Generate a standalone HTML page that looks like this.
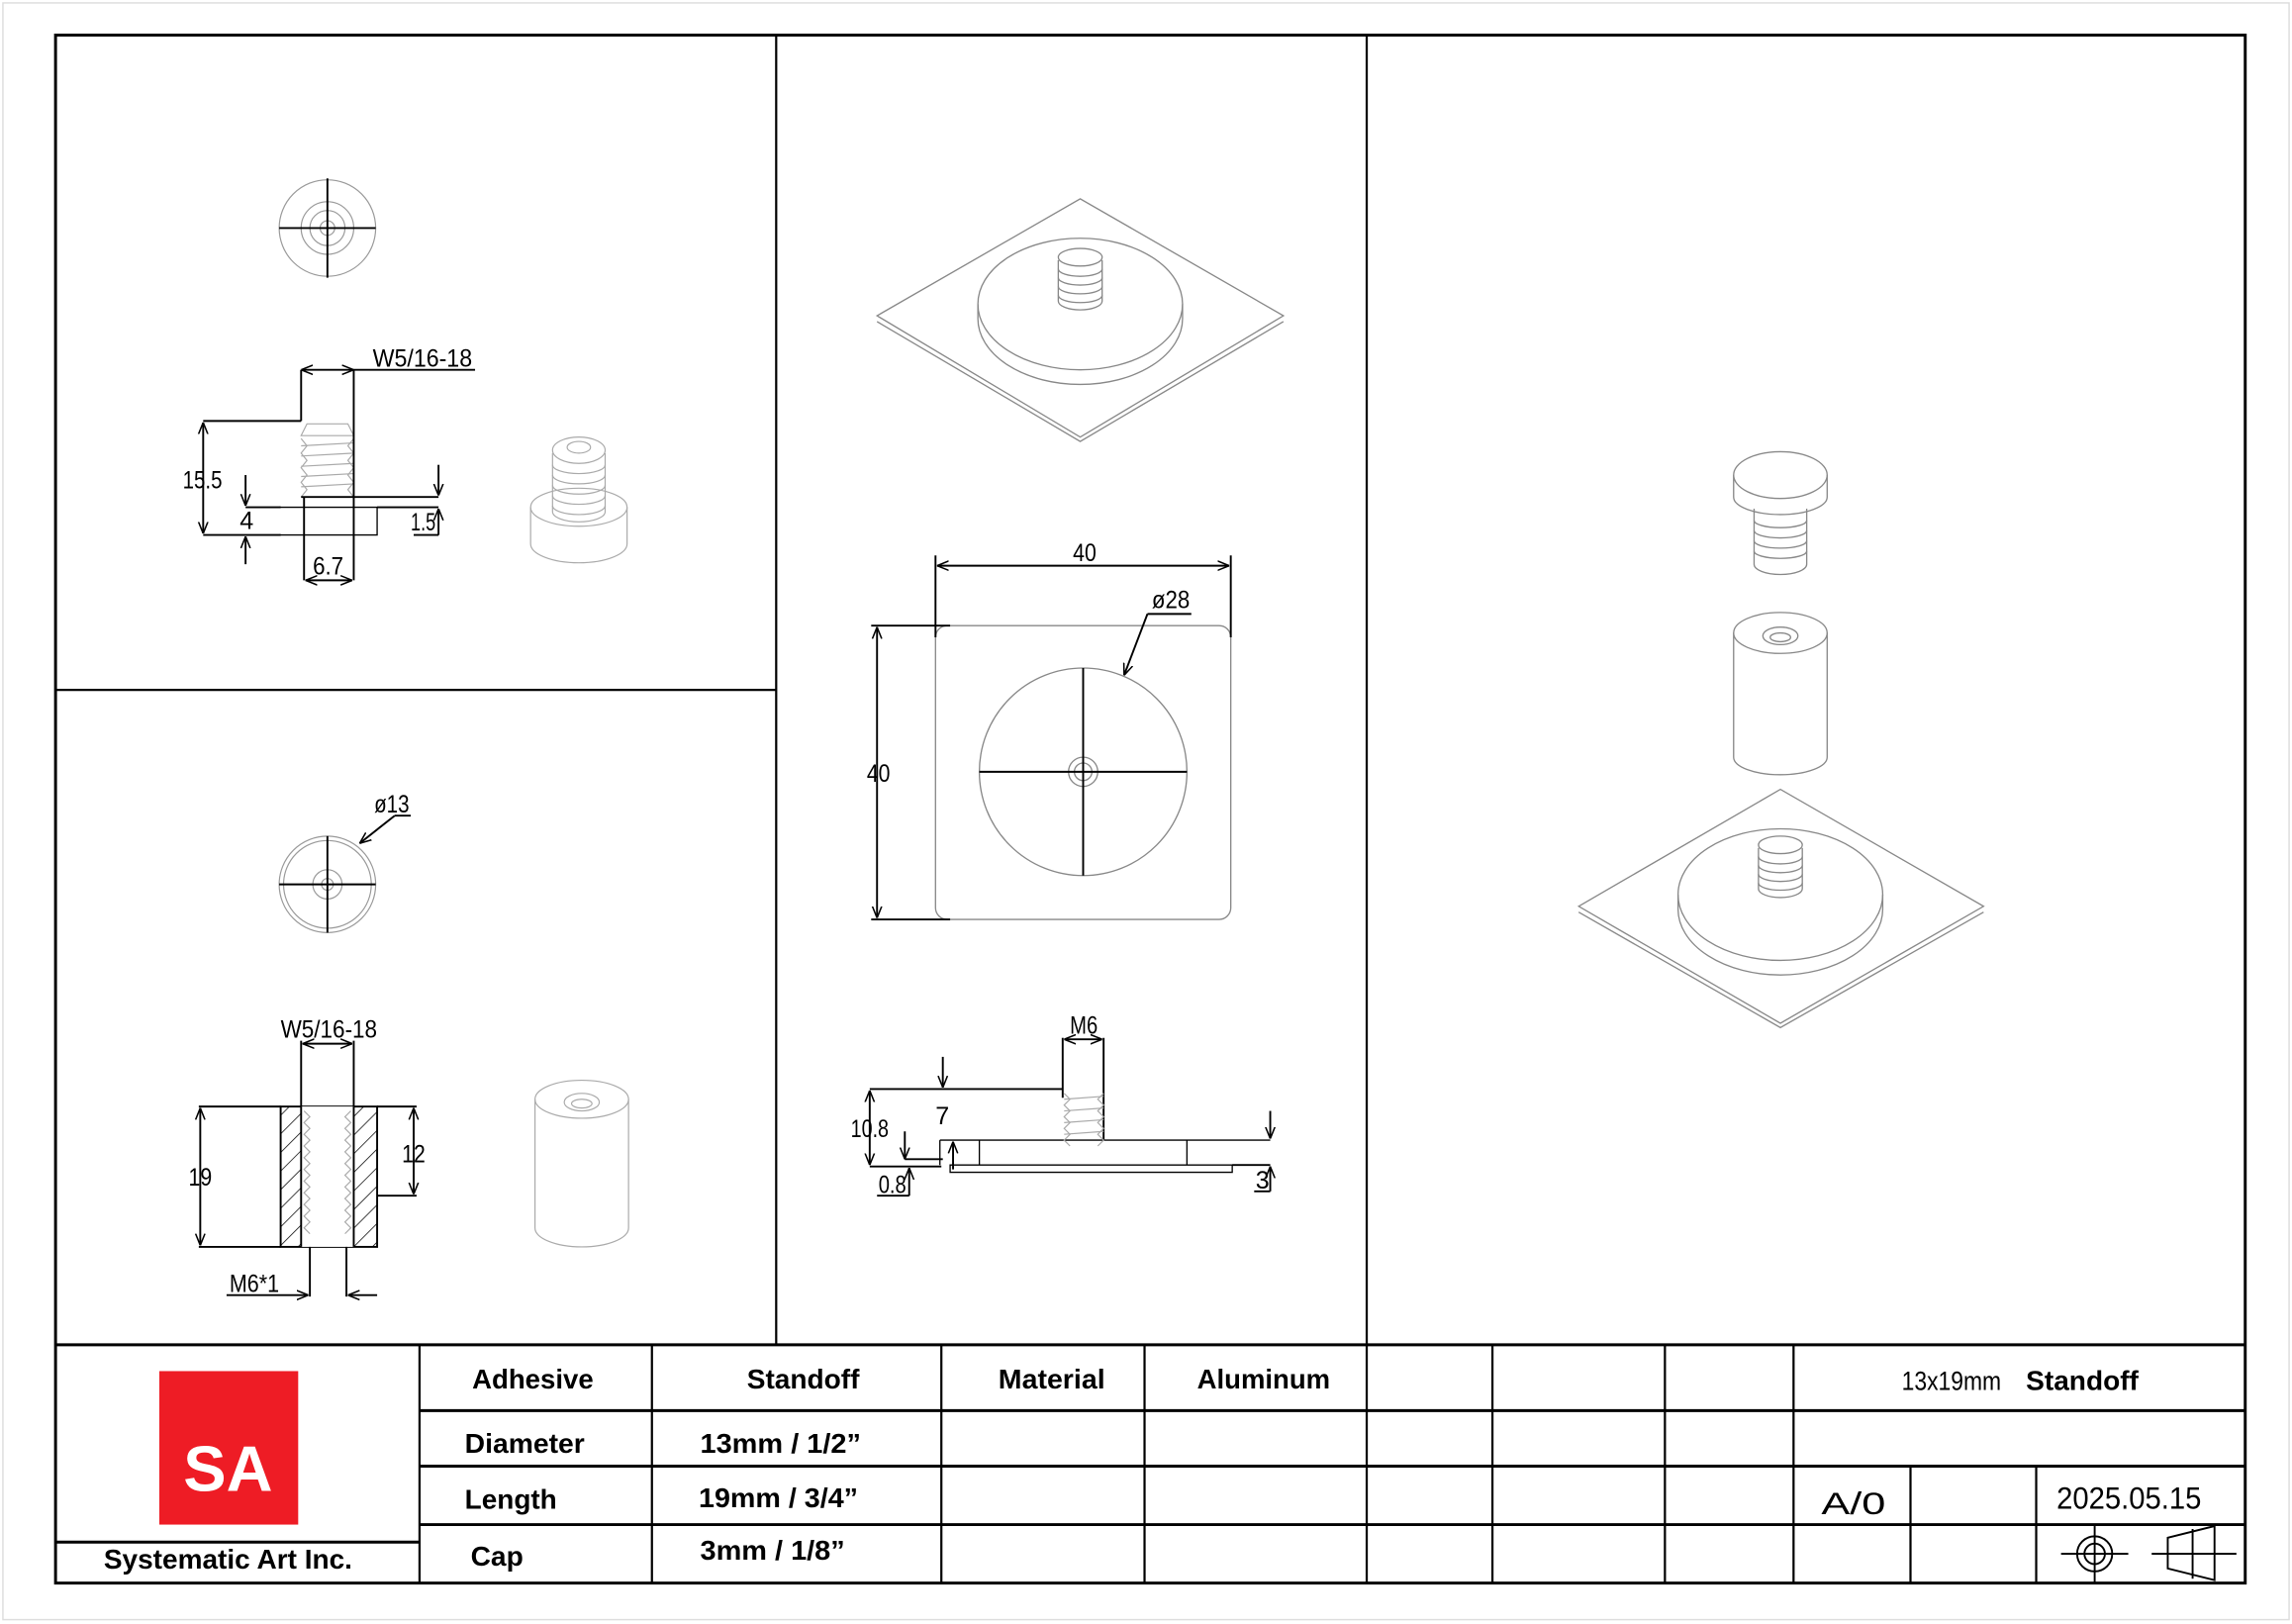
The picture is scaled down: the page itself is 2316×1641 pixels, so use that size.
<!DOCTYPE html>
<html><head><meta charset="utf-8"><style>
html,body{margin:0;padding:0;background:#fff}
svg{display:block}
text{font-family:"Liberation Sans",sans-serif}
.d{font-size:17px;fill:#000}
.t{font-size:19px;font-weight:bold;fill:#000}
</style></head><body>
<svg width="2316" height="1641" viewBox="0 0 1568 1111" preserveAspectRatio="none" xmlns="http://www.w3.org/2000/svg">
<defs>
<marker id="a" viewBox="0 0 10 10" refX="10" refY="5" markerWidth="8" markerHeight="8" orient="auto-start-reverse" markerUnits="userSpaceOnUse"><path d="M0,1 L10,5 L0,9" fill="none" stroke="#000" stroke-width="1.3"/></marker>
<pattern id="h" width="9" height="9" patternUnits="userSpaceOnUse" patternTransform="rotate(45)"><line x1="0" y1="0" x2="0" y2="9" stroke="#000" stroke-width="1"/></pattern>
</defs>
<rect x="0" y="0" width="1568" height="1111" fill="#fff"/>
<rect x="2" y="2" width="1564" height="1106" fill="none" stroke="#ddd" stroke-width="1"/>
<g stroke="#000" fill="none" stroke-width="1.5">
<rect x="38" y="24" width="1498" height="1059" stroke-width="2"/>
<line x1="531" y1="24" x2="531" y2="920"/>
<line x1="935" y1="24" x2="935" y2="920"/>
<line x1="38" y1="472" x2="531" y2="472"/>
<line x1="38" y1="920" x2="1536" y2="920" stroke-width="2"/>
<line x1="287" y1="965" x2="1536" y2="965" stroke-width="2"/>
<line x1="287" y1="1003" x2="1536" y2="1003" stroke-width="2"/>
<line x1="287" y1="1043" x2="1536" y2="1043" stroke-width="2"/>
<line x1="38" y1="1055" x2="287" y2="1055" stroke-width="2"/>
<line x1="287" y1="920" x2="287" y2="1083"/>
<line x1="446" y1="920" x2="446" y2="1083"/>
<line x1="644" y1="920" x2="644" y2="1083"/>
<line x1="783" y1="920" x2="783" y2="1083"/>
<line x1="935" y1="920" x2="935" y2="1083"/>
<line x1="1021" y1="920" x2="1021" y2="1083"/>
<line x1="1139" y1="920" x2="1139" y2="1083"/>
<line x1="1227" y1="920" x2="1227" y2="1083"/>
<line x1="1307" y1="1003" x2="1307" y2="1083"/>
<line x1="1393" y1="1003" x2="1393" y2="1083"/>
</g>
<rect x="109" y="938" width="95" height="105" fill="#ee1c25"/>
<text x="156" y="1020" font-size="44" font-weight="bold" fill="#fff" text-anchor="middle">SA</text>
<text class="t" x="71" y="1073" textLength="170" lengthAdjust="spacingAndGlyphs">Systematic Art Inc.</text>
<text class="t" x="323" y="950" textLength="83" lengthAdjust="spacingAndGlyphs">Adhesive</text>
<text class="t" x="511" y="950" textLength="77" lengthAdjust="spacingAndGlyphs">Standoff</text>
<text class="t" x="683" y="950" textLength="73" lengthAdjust="spacingAndGlyphs">Material</text>
<text class="t" x="819" y="950" textLength="91" lengthAdjust="spacingAndGlyphs">Aluminum</text>
<text x="1301" y="951" font-size="18" textLength="68" lengthAdjust="spacingAndGlyphs">13x19mm</text>
<text class="t" x="1386" y="951" textLength="77" lengthAdjust="spacingAndGlyphs">Standoff</text>
<text class="t" x="318" y="994" textLength="82" lengthAdjust="spacingAndGlyphs">Diameter</text>
<text class="t" x="479" y="994" textLength="110" lengthAdjust="spacingAndGlyphs">13mm / 1/2”</text>
<text class="t" x="318" y="1032" textLength="63" lengthAdjust="spacingAndGlyphs">Length</text>
<text class="t" x="478" y="1031" textLength="109" lengthAdjust="spacingAndGlyphs">19mm / 3/4”</text>
<text class="t" x="322" y="1071" textLength="36" lengthAdjust="spacingAndGlyphs">Cap</text>
<text class="t" x="479" y="1067" textLength="99" lengthAdjust="spacingAndGlyphs">3mm / 1/8”</text>
<text x="1246" y="1036" font-size="21" font-family="Liberation Serif" textLength="44" lengthAdjust="spacingAndGlyphs">A/0</text>
<text x="1407" y="1032" font-size="21" textLength="99" lengthAdjust="spacingAndGlyphs">2025.05.15</text>
<g stroke="#000" fill="none" stroke-width="1.3">
<circle cx="1433" cy="1063" r="12"/><circle cx="1433" cy="1063" r="7"/>
<line x1="1410" y1="1063" x2="1456" y2="1063"/><line x1="1433" y1="1044" x2="1433" y2="1083"/>
<path d="M1483,1052 L1515,1044 L1515,1081 L1483,1073 Z"/>
<line x1="1472" y1="1063" x2="1530" y2="1063"/><line x1="1500" y1="1046" x2="1500" y2="1080"/>
</g>

<g stroke="#000" fill="none" stroke-width="1.3">
<g stroke="#999" stroke-width="0.8"><circle cx="224" cy="156" r="33"/><circle cx="224" cy="156" r="18"/><circle cx="224" cy="156" r="12"/><circle cx="224" cy="156" r="5"/></g>
<line x1="191" y1="156" x2="257" y2="156"/><line x1="224" y1="122" x2="224" y2="190"/>
<g stroke="#aaa" stroke-width="0.8">
<path d="M210,290 L238,290 L242,298 L206,298 Z"/>
<path d="M206,300 l4,5 -4,5 4,5 -4,5 4,5 -4,5 4,5 -4,5 M242,300 l-4,5 4,5 -4,5 4,5 -4,5 4,5 -4,5 4,5"/>
<path d="M206,305 L242,303 M206,312 L242,310 M206,319 L242,317 M206,326 L242,324 M206,333 L242,331"/>
</g>
<path d="M206,340 L242,340"/>
<path d="M191,347 L258,347 L258,366 L191,366" stroke-width="0.9"/>
<line x1="208" y1="340" x2="208" y2="397"/><line x1="242" y1="340" x2="242" y2="397"/>
<line x1="206" y1="253" x2="206" y2="288"/><line x1="242" y1="253" x2="242" y2="340"/>
<line x1="206" y1="253" x2="242" y2="253" marker-start="url(#a)" marker-end="url(#a)"/>
<line x1="242" y1="253" x2="325" y2="253"/>
<line x1="139" y1="288" x2="206" y2="288"/>
<line x1="139" y1="289" x2="139" y2="365" marker-start="url(#a)" marker-end="url(#a)"/>
<line x1="139" y1="366" x2="192" y2="366"/>
<line x1="168" y1="347" x2="192" y2="347"/>
<line x1="168" y1="325" x2="168" y2="346" marker-end="url(#a)"/>
<line x1="168" y1="386" x2="168" y2="367" marker-end="url(#a)"/>
<line x1="242" y1="340" x2="300" y2="340"/>
<line x1="258" y1="347" x2="300" y2="347"/>
<line x1="300" y1="318" x2="300" y2="339" marker-end="url(#a)"/>
<line x1="300" y1="366" x2="300" y2="348" marker-end="url(#a)"/>
<line x1="283" y1="366" x2="300" y2="366"/>
<line x1="209" y1="397" x2="241" y2="397" marker-start="url(#a)" marker-end="url(#a)"/>
</g>
<text class="d" x="255" y="251" textLength="68" lengthAdjust="spacingAndGlyphs">W5/16-18</text>
<text class="d" x="125" y="334" textLength="27" lengthAdjust="spacingAndGlyphs">15.5</text>
<text class="d" x="164" y="362">4</text>
<text class="d" x="281" y="363" textLength="17" lengthAdjust="spacingAndGlyphs">1.5</text>
<text class="d" x="214" y="393" textLength="21" lengthAdjust="spacingAndGlyphs">6.7</text>
<g stroke="#aaa" fill="none" stroke-width="0.8">
<ellipse cx="396" cy="347" rx="33" ry="13"/>
<path d="M363,347 L363,372 A33,13 0 0 0 429,372 L429,347"/>
<path d="M378,310 L378,350 A18,7 0 0 0 414,350 L414,310"/>
<ellipse cx="396" cy="308" rx="18" ry="9"/><ellipse cx="396" cy="306" rx="8" ry="4"/>
<path d="M378,318 A18,6 0 0 0 414,318 M378,325 A18,6 0 0 0 414,325 M378,332 A18,6 0 0 0 414,332 M378,339 A18,6 0 0 0 414,339 M378,346 A18,6 0 0 0 414,346"/>
</g>

<g stroke="#999" fill="none" stroke-width="0.8"><circle cx="224" cy="605" r="33"/><circle cx="224" cy="605" r="30"/><circle cx="224" cy="605" r="10"/><circle cx="224" cy="605" r="4"/></g>
<g stroke="#000" fill="none" stroke-width="1.3">
<line x1="191" y1="605" x2="257" y2="605"/><line x1="224" y1="572" x2="224" y2="638"/>
<line x1="270" y1="558" x2="246" y2="577" marker-end="url(#a)"/><line x1="270" y1="558" x2="281" y2="558"/>
<rect x="192" y="757" width="66" height="96" fill="url(#h)"/>
<rect x="206" y="757" width="36" height="96" fill="#fff" stroke="none"/>
<line x1="206" y1="757" x2="206" y2="853"/><line x1="242" y1="757" x2="242" y2="853"/>
<line x1="206" y1="712" x2="206" y2="757"/><line x1="242" y1="712" x2="242" y2="757"/>
<line x1="207" y1="714" x2="241" y2="714" marker-start="url(#a)" marker-end="url(#a)"/>
<line x1="136" y1="757" x2="192" y2="757"/><line x1="136" y1="853" x2="192" y2="853"/>
<line x1="137" y1="758" x2="137" y2="852" marker-start="url(#a)" marker-end="url(#a)"/>
<line x1="258" y1="757" x2="285" y2="757"/><line x1="258" y1="818" x2="285" y2="818"/>
<line x1="283" y1="758" x2="283" y2="817" marker-start="url(#a)" marker-end="url(#a)"/>
<line x1="212" y1="853" x2="212" y2="887"/><line x1="237" y1="853" x2="237" y2="887"/>
<line x1="155" y1="886" x2="211" y2="886" marker-end="url(#a)"/>
<line x1="258" y1="886" x2="238" y2="886" marker-end="url(#a)"/>
</g>
<g stroke="#aaa" fill="none" stroke-width="0.8">
<path d="M208,760 l4,4 -4,4 4,4 -4,4 4,4 -4,4 4,4 -4,4 4,4 -4,4 4,4 -4,4 4,4 -4,4 4,4 -4,4 4,4 -4,4 4,4 -4,4 4,4 M240,760 l-4,4 4,4 -4,4 4,4 -4,4 4,4 -4,4 4,4 -4,4 4,4 -4,4 4,4 -4,4 4,4 -4,4 4,4 -4,4 4,4 -4,4 4,4 -4,4"/>
<path d="M366,752 L366,840 A32,13 0 0 0 430,840 L430,752"/>
<ellipse cx="398" cy="752" rx="32" ry="13"/><ellipse cx="398" cy="754" rx="12" ry="6"/><ellipse cx="398" cy="755" rx="7" ry="3"/>
</g>
<text class="d" x="256" y="556" textLength="24" lengthAdjust="spacingAndGlyphs">ø13</text>
<text class="d" x="192" y="710" textLength="66" lengthAdjust="spacingAndGlyphs">W5/16-18</text>
<text class="d" x="129" y="811" textLength="16" lengthAdjust="spacingAndGlyphs">19</text>
<text class="d" x="275" y="795" textLength="16" lengthAdjust="spacingAndGlyphs">12</text>
<text class="d" x="157" y="884" textLength="34" lengthAdjust="spacingAndGlyphs">M6*1</text>

<g stroke="#888" fill="none" stroke-width="0.9">
<path d="M600,216 L739,136 L878,216 L739,299 Z"/>
<path d="M600,220 L739,302 L878,220"/>
<ellipse cx="739" cy="208" rx="70" ry="45"/>
<path d="M669,208 L669,218 A70,45 0 0 0 809,218 L809,208"/>
<path d="M724,178 L724,206 A15,6 0 0 0 754,206 L754,178"/>
<ellipse cx="739" cy="176" rx="15" ry="6"/>
<path d="M724,184 A15,5 0 0 0 754,184 M724,190 A15,5 0 0 0 754,190 M724,196 A15,5 0 0 0 754,196 M724,202 A15,5 0 0 0 754,202"/>
</g>
<g stroke="#000" fill="none" stroke-width="1.3">
<rect x="640" y="428" width="202" height="201" rx="8" stroke="#888" stroke-width="0.9"/>
<circle cx="741" cy="528" r="71" stroke="#888" stroke-width="0.9"/>
<circle cx="741" cy="528" r="10" stroke="#888" stroke-width="0.9"/>
<circle cx="741" cy="528" r="6" stroke="#888" stroke-width="0.9"/>
<line x1="670" y1="528" x2="812" y2="528"/><line x1="741" y1="457" x2="741" y2="599"/>
<line x1="640" y1="380" x2="640" y2="436"/><line x1="842" y1="380" x2="842" y2="436"/>
<line x1="641" y1="387" x2="841" y2="387" marker-start="url(#a)" marker-end="url(#a)"/>
<line x1="596" y1="428" x2="650" y2="428"/><line x1="596" y1="629" x2="650" y2="629"/>
<line x1="600" y1="429" x2="600" y2="628" marker-start="url(#a)" marker-end="url(#a)"/>
<line x1="785" y1="420" x2="769" y2="462" marker-end="url(#a)"/><line x1="785" y1="420" x2="815" y2="420"/>
</g>
<text class="d" x="734" y="384" textLength="16" lengthAdjust="spacingAndGlyphs">40</text>
<text class="d" x="788" y="416" textLength="26" lengthAdjust="spacingAndGlyphs">ø28</text>
<text class="d" x="593" y="535" textLength="16" lengthAdjust="spacingAndGlyphs">40</text>
<g stroke="#000" fill="none" stroke-width="1.3">
<path d="M643,780 L869,780 M643,780 L643,797 M650,797 L843,797 L843,802 L650,802 Z" stroke-width="0.9"/>
<line x1="670" y1="780" x2="670" y2="797" stroke-width="0.9"/><line x1="812" y1="780" x2="812" y2="797" stroke-width="0.9"/>
<line x1="727" y1="710" x2="727" y2="751"/><line x1="755" y1="710" x2="755" y2="780"/>
<line x1="728" y1="711" x2="754" y2="711" marker-start="url(#a)" marker-end="url(#a)"/>
<line x1="595" y1="745" x2="727" y2="745"/>
<line x1="595" y1="746" x2="595" y2="797" marker-start="url(#a)" marker-end="url(#a)"/>
<line x1="595" y1="798" x2="644" y2="798"/>
<line x1="645" y1="723" x2="645" y2="744" marker-end="url(#a)"/>
<line x1="652" y1="800" x2="652" y2="781" marker-end="url(#a)"/>
<line x1="619" y1="774" x2="619" y2="793" marker-end="url(#a)"/><line x1="619" y1="793" x2="645" y2="793"/>
<line x1="622" y1="818" x2="622" y2="799" marker-end="url(#a)"/><line x1="600" y1="818" x2="622" y2="818"/>
<line x1="869" y1="760" x2="869" y2="779" marker-end="url(#a)"/>
<line x1="843" y1="797" x2="869" y2="797"/>
<line x1="869" y1="815" x2="869" y2="798" marker-end="url(#a)"/><line x1="858" y1="815" x2="869" y2="815"/>
</g>
<g stroke="#aaa" fill="none" stroke-width="0.8">
<path d="M728,748 l4,4 -4,4 4,4 -4,4 4,4 -4,4 4,4 -4,4 4,4 M755,748 l-4,4 4,4 -4,4 4,4 -4,4 4,4 -4,4 4,4 -4,4"/>
<path d="M728,752 L755,750 M728,760 L755,758 M728,768 L755,766 M728,776 L755,774"/>
</g>
<text class="d" x="732" y="707" textLength="19" lengthAdjust="spacingAndGlyphs">M6</text>
<text class="d" x="640" y="769">7</text>
<text class="d" x="582" y="778" textLength="26" lengthAdjust="spacingAndGlyphs">10.8</text>
<text class="d" x="601" y="816" textLength="19" lengthAdjust="spacingAndGlyphs">0.8</text>
<text class="d" x="859" y="813">3</text>

<g stroke="#888" fill="none" stroke-width="0.9">
<path d="M1186,325 L1186,340 A32,12 0 0 0 1250,340 L1250,325"/>
<ellipse cx="1218" cy="325" rx="32" ry="16"/>
<path d="M1200,348 L1200,386 A18,7 0 0 0 1236,386 L1236,348"/>
<path d="M1200,356 A18,5 0 0 0 1236,356 M1200,363 A18,5 0 0 0 1236,363 M1200,370 A18,5 0 0 0 1236,370 M1200,377 A18,5 0 0 0 1236,377"/>
<path d="M1186,433 L1186,518 A32,12 0 0 0 1250,518 L1250,433"/>
<ellipse cx="1218" cy="433" rx="32" ry="14"/><ellipse cx="1218" cy="435" rx="12" ry="6"/><ellipse cx="1218" cy="436" rx="7" ry="3"/>
<path d="M1080,620 L1218,540 L1357,620 L1218,700 Z"/>
<path d="M1080,624 L1218,703 L1357,624"/>
<ellipse cx="1218" cy="612" rx="70" ry="45"/>
<path d="M1148,612 L1148,622 A70,45 0 0 0 1288,622 L1288,612"/>
<path d="M1203,580 L1203,608 A15,6 0 0 0 1233,608 L1233,580"/>
<ellipse cx="1218" cy="578" rx="15" ry="6"/>
<path d="M1203,586 A15,5 0 0 0 1233,586 M1203,592 A15,5 0 0 0 1233,592 M1203,598 A15,5 0 0 0 1233,598 M1203,604 A15,5 0 0 0 1233,604"/>
</g>
</svg>
</body></html>
